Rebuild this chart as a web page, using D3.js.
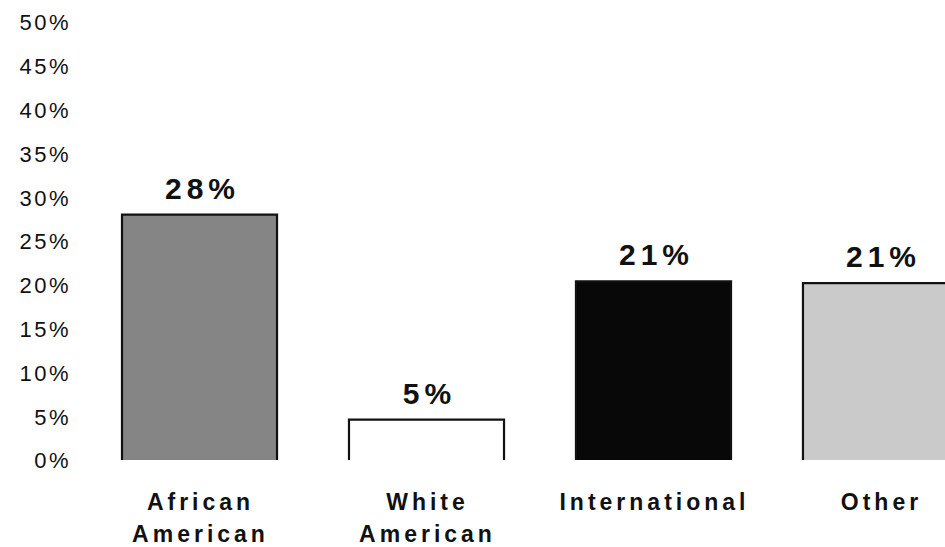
<!DOCTYPE html>
<html>
<head>
<meta charset="utf-8">
<script src="https://cdn.jsdelivr.net/npm/d3@7"></script>
<style>
  body { margin: 0; background: #fff; }
  text { font-family: "Liberation Sans", Arial, Helvetica, sans-serif; fill: #111; }
</style>
</head>
<body>
<div id="chart"></div>
<script>
const categories = [["African", "American"], ["White", "American"], ["International"], ["Other"]]
const values = [28, 4.6, 20.4, 20.2]
const valueLabels = ["28%", "5%", "21%", "21%"]
const yTicks = [0, 5, 10, 15, 20, 25, 30, 35, 40, 45, 50]

const width = 945,
      height = 547

const svg = d3.select("#chart")
              .append("svg")
              .attr("width", width)
              .attr("height", height)

const xScale = d3.scaleBand()
                 .domain(d3.range(values.length))
                 .range([122, 958])
                 .paddingInner(0.317)
                 .paddingOuter(0)

const yScale = d3.scaleLinear()
                 .domain([0, 50])
                 .range([460, 22])

// y axis: labels only, no line
const yAxis = d3.axisLeft(yScale)
                .tickValues(yTicks)
                .tickFormat(d => d + "%")
                .tickSize(0)
                .tickPadding(0)

const gy = svg.append("g")
   .attr("transform", "translate(71,0)")
   .call(yAxis)
gy.select(".domain").remove()
gy.selectAll("text")
   .attr("dy", "0.36em")
   .style("font-size", "22px")
   .style("letter-spacing", "2.5px")
   .style("font-family", "'Liberation Sans', Arial, sans-serif")
   .attr("fill", "#111")

const fills = ["#858585", "#ffffff", "#080808", "#cacaca"]

// bars
values.forEach((v, i) => {
   const x0 = xScale(i),
         x1 = xScale(i) + xScale.bandwidth(),
         yt = yScale(v),
         yb = yScale(0)
   svg.append("rect")
      .attr("x", x0)
      .attr("y", yt)
      .attr("width", xScale.bandwidth())
      .attr("height", yb - yt)
      .attr("fill", fills[i])
   // outline on top / left / right (no bottom edge)
   svg.append("path")
      .attr("d", `M${x0},${yb} L${x0},${yt} L${x1},${yt} L${x1},${yb}`)
      .attr("fill", "none")
      .attr("stroke", "#111")
      .attr("stroke-width", 2.2)
})

// value labels
svg.selectAll("text.val")
   .data(valueLabels)
   .enter()
   .append("text")
   .attr("class", "val")
   .attr("x", (d, i) => xScale(i) + xScale.bandwidth() / 2 + 3)
   .attr("y", (d, i) => yScale(values[i]) - 16)
   .attr("text-anchor", "middle")
   .style("font-size", "30px")
   .style("font-weight", "bold")
   .style("letter-spacing", "5px")
   .text(d => d)

// category labels
categories.forEach((lines, i) => {
   const cx = xScale(i) + xScale.bandwidth() / 2 + 1
   const t = svg.append("text")
      .attr("x", cx)
      .attr("y", 510)
      .attr("text-anchor", "middle")
      .style("font-size", "23px")
      .style("font-weight", "bold")
      .style("letter-spacing", "4px")
   lines.forEach((l, j) => {
      t.append("tspan")
       .attr("x", cx)
       .attr("dy", j === 0 ? 0 : 32)
       .text(l)
   })
})
</script>
</body>
</html>
